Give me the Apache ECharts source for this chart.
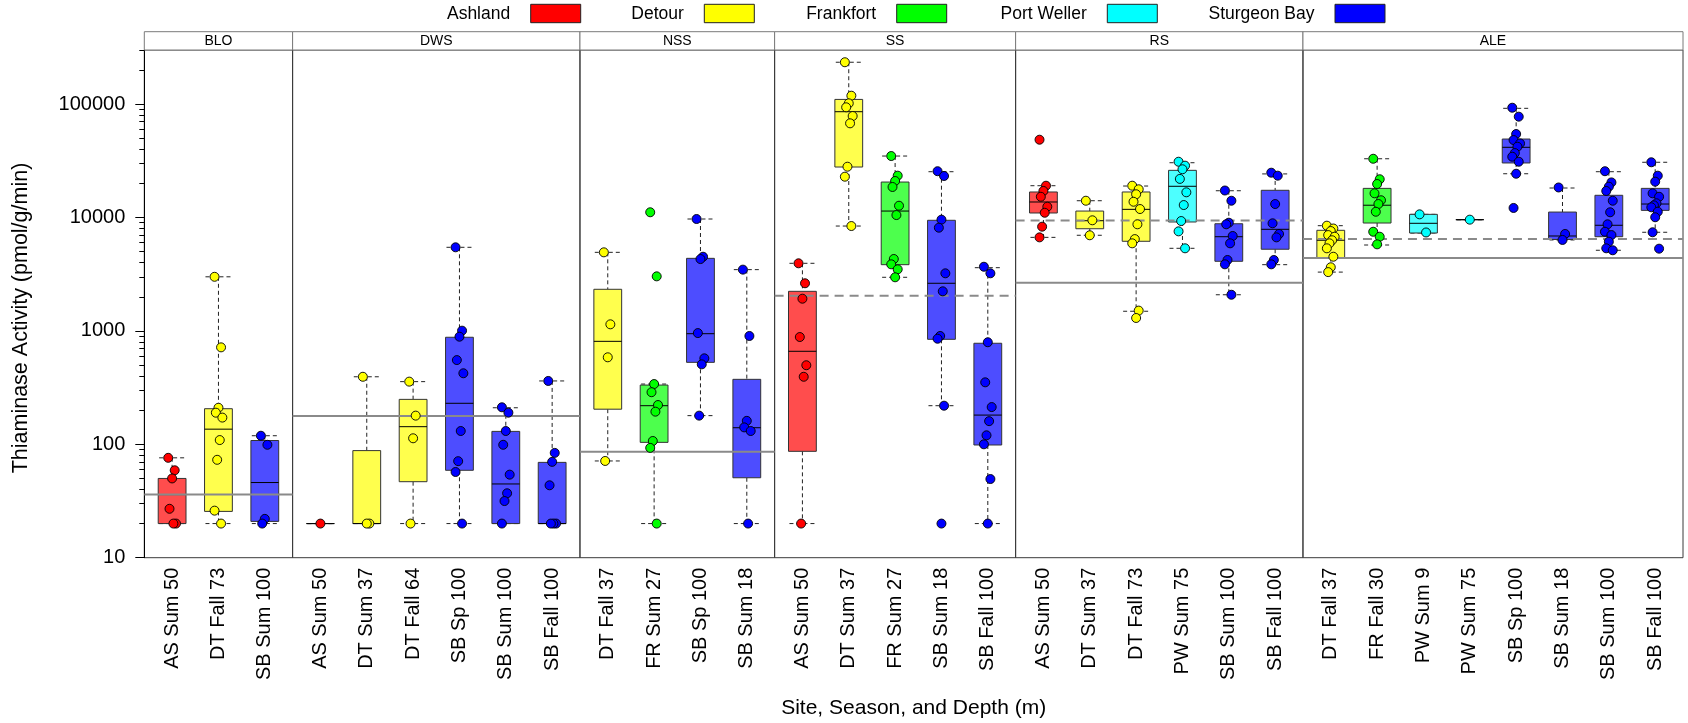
<!DOCTYPE html>
<html>
<head>
<meta charset="utf-8">
<script src="https://cdn.jsdelivr.net/npm/echarts@6/dist/echarts.min.js"></script>
<style>
html,body{margin:0;padding:0;background:#fff;}
#chart{width:1688px;height:723px;}
</style>
</head>
<body>
<div id="chart"></div>
<script>
// ---------------- DATA ----------------
const panelNames = ['BLO', 'DWS', 'NSS', 'SS', 'RS', 'ALE'];

const catsBLO = ['AS Sum 50', 'DT Fall 73', 'SB Sum 100'];
// [lower whisker, Q1, median, Q3, upper whisker]
const boxesBLO = [
  [20, 20, 36, 50, 76],
  [20, 25.6, 136, 206, 3000],
  [20, 20.9, 46, 108, 119]
];
const pointsBLO = [
  [76, 59, 50, 27, 20, 20],
  [3000, 716, 210, 190, 172, 109, 73, 26, 20],
  [119, 99, 22, 20]
];

const catsDWS = ['AS Sum 50', 'DT Sum 37', 'DT Fall 64', 'SB Sp 100', 'SB Sum 100', 'SB Fall 100'];
const boxesDWS = [
  [20, 20, 20, 20, 20],
  [20, 20, 20, 88, 394],
  [20, 46.8, 143, 249, 357],
  [20, 59, 230, 879, 5460],
  [20, 20, 44.7, 130, 210],
  [20, 20, 20, 69.3, 362]
];
const pointsDWS = [
  [20],
  [394, 20, 20],
  [357, 179, 113, 20],
  [5460, 1005, 889, 553, 423, 131, 71, 57, 20],
  [212, 190, 131, 99, 54, 37, 31.6, 20],
  [362, 84, 70, 43.5, 20, 20, 20]
];

const catsNSS = ['DT Fall 37', 'FR Sum 27', 'SB Sp 100', 'SB Sum 18'];
const boxesNSS = [
  [71.3, 204, 809, 2328, 4930],
  [20, 104, 219, 333, 340],
  [179, 528, 945, 4365, 9700],
  [20, 50.7, 140, 374, 3470]
];
const pointsNSS = [
  [4930, 1143, 585, 71.3],
  [11120, 3027, 340, 288, 222, 194, 107, 93, 20],
  [9700, 4510, 4300, 957, 573, 507, 179],
  [3470, 902, 161, 141, 131, 20]
];

const catsSS = ['AS Sum 50', 'DT Sum 37', 'FR Sum 27', 'SB Sum 18', 'SB Fall 100'];
const boxesSS = [
  [20, 86.7, 661, 2234, 3945],
  [8410, 27870, 85700, 110000, 234000],
  [2970, 3837, 11400, 20550, 34840],
  [219, 843, 2630, 9450, 25340],
  [20, 98.6, 181, 778, 3610]
];
const pointsSS = [
  [3945, 2630, 1923, 883, 498, 394, 20],
  [234000, 118600, 101600, 93700, 78500, 67700, 28050, 22900, 8410],
  [34840, 23380, 20990, 18580, 12700, 10510, 4307, 3865, 3492, 2970],
  [25600, 23230, 9570, 8130, 3220, 2234, 902, 853, 219, 20],
  [3680, 3220, 794, 352, 213, 160, 120, 100, 49.4, 20]
];

const catsRS = ['AS Sum 50', 'DT Sum 37', 'DT Fall 73', 'PW Sum 75', 'SB Sum 100', 'SB Fall 100'];
const boxesRS = [
  [6680, 10960, 13700, 16790, 19070],
  [6970, 7960, 9370, 11400, 14060],
  [1490, 6170, 11800, 16790, 18950],
  [5350, 9130, 18850, 26060, 30410],
  [2083, 4110, 6770, 8810, 17220],
  [3837, 5250, 7870, 17380, 24230]
];
const pointsRS = [
  [48530, 19070, 17140, 15240, 12450, 11010, 8300, 6680],
  [14060, 9450, 6970],
  [19070, 17740, 16030, 13770, 11880, 8710, 6450, 5920, 1510, 1300],
  [31040, 28640, 26630, 21890, 16680, 12880, 9310, 7550, 5350],
  [17300, 14060, 9000, 8710, 6870, 5920, 4220, 3865, 2083],
  [24840, 23380, 13150, 8890, 7160, 6680, 4220, 3865]
];

const catsALE = ['DT Fall 37', 'FR Fall 30', 'PW Sum 9', 'PW Sum 75', 'SB Sp 100', 'SB Sum 18', 'SB Sum 100', 'SB Fall 100'];
const boxesALE = [
  [3300, 4430, 6300, 7710, 8470],
  [5720, 8940, 12830, 18070, 32960],
  [7300, 7300, 8890, 10660, 10660],
  [9570, 9570, 9570, 9570, 9570],
  [24320, 30260, 41590, 49200, 91800],
  [6340, 6400, 6870, 11170, 18200],
  [5140, 6770, 8540, 15700, 25340],
  [7410, 11560, 13150, 18070, 30690]
];
const pointsALE = [
  [8470, 8000, 7600, 7000, 6770, 6300, 5920, 5350, 4510, 3640, 3300],
  [32960, 21750, 19740, 16340, 14200, 13150, 11240, 7490, 6770, 5800],
  [10660, 7380],
  [9570],
  [92900, 77500, 54450, 48200, 45000, 42100, 37000, 34350, 31040, 24320, 12140],
  [18400, 7160, 6340],
  [25600, 20400, 18700, 17140, 14060, 11120, 8710, 7490, 7000, 6120, 5350, 5140],
  [30690, 23380, 20700, 16340, 15240, 13350, 12800, 12300, 11240, 10050, 7410, 5310]
];

// panel reference lines (solid and dashed), null = none
const refSolid = [36, 178, 86, null, 2660, 4400];
const refDashed = [null, null, null, 2040, 9400, 6470];

const yMajorTicks = [10, 100, 1000, 10000, 100000];
const legendNames = ['Ashland', 'Detour', 'Frankfort', 'Port Weller', 'Sturgeon Bay'];
const legendCodes = ['AS', 'DT', 'FR', 'PW', 'SB'];
const yTitle = 'Thiaminase Activity (pmol/g/min)';
const xTitle = 'Site, Season, and Depth (m)';

// ---------------- STYLE / LAYOUT ----------------
const FONT = "'Liberation Sans', Arial, Helvetica, sans-serif";
const pointColor = {AS: '#ff0000', DT: '#ffff00', FR: '#00ff00', PW: '#00ffff', SB: '#0000ff'};
const boxFill = {AS: '#ff4d4d', DT: '#ffff4d', FR: '#4dff4d', PW: '#4dffff', SB: '#4d4dff'};
const panelCats = [catsBLO, catsDWS, catsNSS, catsSS, catsRS, catsALE];
const panelBoxes = [boxesBLO, boxesDWS, boxesNSS, boxesSS, boxesRS, boxesALE];
const panelPoints = [pointsBLO, pointsDWS, pointsNSS, pointsSS, pointsRS, pointsALE];

const PLOT_L = 144.3, PLOT_R = 1683, PLOT_T = 50, PLOT_B = 557.7, STRIP_T = 31.7;
const Y_MIN = 10, Y_MAX = 300000;
const totalUnits = panelCats.reduce((s, c) => s + c.length + 0.2, 0);
const unit = (PLOT_R - PLOT_L) / totalUnits;

const minorTicks = [];
for (let d = 10; d <= 100000; d *= 10) {
  for (let k = 2; k <= 9; k++) { if (k * d <= Y_MAX) minorTicks.push(k * d); }
}

const grids = [], xAxes = [], yAxes = [], series = [], graphics = [];
let cum = 0;
panelCats.forEach((cats, pi) => {
  const n = cats.length;
  const left = PLOT_L + cum * unit;
  const width = (n + 0.2) * unit;
  cum += n + 0.2;
  grids.push({
    left: left, top: PLOT_T, width: width, height: PLOT_B - PLOT_T,
    show: true, borderColor: '#3a3a3a', borderWidth: 1, backgroundColor: 'transparent',
    containLabel: false, outerBoundsMode: 'none'
  });
  xAxes.push({
    type: 'value', gridIndex: pi, min: -0.6, max: n - 0.4, position: 'bottom',
    axisLine: {show: false, onZero: false}, axisTick: {show: false}, splitLine: {show: false},
    axisLabel: {
      customValues: cats.map((c, i) => i),
      formatter: v => cats[Math.round(v)] || '',
      rotate: 90, fontSize: 20, color: '#000', fontFamily: FONT, margin: 10
    }
  });
  const yIdx = yAxes.length;
  if (pi === 0) {
    yAxes.push({
      type: 'log', logBase: 10, gridIndex: 0, min: Y_MIN, max: Y_MAX, position: 'left',
      axisLine: {show: true, onZero: false, lineStyle: {color: '#000', width: 1}},
      axisTick: {show: true, customValues: yMajorTicks, length: 9, lineStyle: {color: '#000'}},
      axisLabel: {customValues: yMajorTicks, formatter: v => String(Math.round(v)),
        fontSize: 20, color: '#000', fontFamily: FONT, margin: 19},
      splitLine: {show: false}
    });
    yAxes.push({
      type: 'log', logBase: 10, gridIndex: 0, min: Y_MIN, max: Y_MAX, position: 'left', offset: 0,
      axisLine: {show: false, onZero: false},
      axisTick: {show: true, customValues: minorTicks, length: 5, lineStyle: {color: '#000'}},
      axisLabel: {show: false}, splitLine: {show: false}
    });
  } else {
    yAxes.push({
      type: 'log', logBase: 10, gridIndex: pi, min: Y_MIN, max: Y_MAX, show: false,
      axisLine: {onZero: false}, splitLine: {show: false}
    });
  }

  // boxes
  const boxData = panelBoxes[pi].map((b, i) => {
    const code = cats[i].split(' ')[0];
    return [i, b[0], b[1], b[2], b[3], b[4], legendCodes.indexOf(code)];
  });
  series.push({
    type: 'custom', xAxisIndex: pi, yAxisIndex: yIdx, z: 2, silent: true,
    encode: {x: 0, y: [1, 2, 3, 4, 5]},
    data: boxData,
    renderItem: (params, api) => {
      const x = api.value(0);
      const lo = api.value(1), q1 = api.value(2), med = api.value(3), q3 = api.value(4), hi = api.value(5);
      const fill = boxFill[legendCodes[api.value(6)]];
      const pLo = api.coord([x, lo]), pQ1 = api.coord([x, q1]), pMed = api.coord([x, med]);
      const pQ3 = api.coord([x, q3]), pHi = api.coord([x, hi]);
      const bl = api.coord([x - 0.3, med])[0], br = api.coord([x + 0.3, med])[0];
      const cl = api.coord([x - 0.28, med])[0], cr = api.coord([x + 0.28, med])[0];
      const cx = pMed[0];
      const dash = () => ({stroke: '#222', lineWidth: 1, lineDash: [4, 3], fill: null});
      return {
        type: 'group',
        children: [
          {type: 'line', shape: {x1: cx, y1: pHi[1], x2: cx, y2: pQ3[1]}, style: dash()},
          {type: 'line', shape: {x1: cx, y1: pQ1[1], x2: cx, y2: pLo[1]}, style: dash()},
          {type: 'line', shape: {x1: cl, y1: pHi[1], x2: cr, y2: pHi[1]}, style: dash()},
          {type: 'line', shape: {x1: cl, y1: pLo[1], x2: cr, y2: pLo[1]}, style: dash()},
          {type: 'rect', shape: {x: bl, y: pQ3[1], width: br - bl, height: Math.max(pQ1[1] - pQ3[1], 0)},
            style: {fill: fill, stroke: '#333', lineWidth: 1}},
          {type: 'line', shape: {x1: bl, y1: pMed[1], x2: br, y2: pMed[1]}, style: {stroke: '#000', lineWidth: 1}}
        ]
      };
    }
  });

  // reference lines
  if (refSolid[pi] != null) {
    series.push({
      type: 'line', xAxisIndex: pi, yAxisIndex: yIdx, z: 4, silent: true, symbol: 'none',
      data: [[-0.6, refSolid[pi]], [n - 0.4, refSolid[pi]]],
      lineStyle: {color: '#8a8a8a', width: 2}, animation: false
    });
  }
  if (refDashed[pi] != null) {
    series.push({
      type: 'line', xAxisIndex: pi, yAxisIndex: yIdx, z: 4, silent: true, symbol: 'none',
      data: [[-0.6, refDashed[pi]], [n - 0.4, refDashed[pi]]],
      lineStyle: {color: '#8a8a8a', width: 2, type: [9, 6]}, animation: false
    });
  }

  // points with small deterministic jitter
  const pts = [];
  panelPoints[pi].forEach((arr, i) => {
    const code = cats[i].split(' ')[0];
    arr.forEach((v, k) => {
      const jit = arr.length > 1 ? ((((k * 5) % 7) - 3) * 0.028) : 0;
      pts.push({value: [i + jit, v], itemStyle: {color: pointColor[code]}});
    });
  });
  series.push({
    type: 'scatter', xAxisIndex: pi, yAxisIndex: yIdx, z: 6, silent: true,
    symbol: 'circle', symbolSize: 9,
    itemStyle: {borderColor: '#000', borderWidth: 0.9, opacity: 1},
    data: pts, animation: false
  });

  // strip
  graphics.push({
    type: 'rect', shape: {x: left, y: STRIP_T, width: width, height: PLOT_T - STRIP_T},
    style: {fill: '#fff', stroke: '#7a7a7a', lineWidth: 1}, z: 10
  });
  graphics.push({
    type: 'text', x: left + width / 2, y: (STRIP_T + PLOT_T) / 2 + 0.5, z: 11,
    style: {text: panelNames[pi], font: '14px ' + FONT, fill: '#000',
      align: 'center', verticalAlign: 'middle', textAlign: 'center', textVerticalAlign: 'middle'}
  });
});

// legend (text left of colour box)
const legendBoxX = [530.7, 704.3, 896.7, 1107.3, 1335];
legendNames.forEach((name, i) => {
  const bx = legendBoxX[i];
  graphics.push({
    type: 'rect', shape: {x: bx, y: 4.3, width: 50, height: 18.4},
    style: {fill: pointColor[legendCodes[i]], stroke: '#222', lineWidth: 1}
  });
  graphics.push({
    type: 'text', x: bx - 20.5, y: 14.2,
    style: {text: name, font: '17.5px ' + FONT, fill: '#000',
      align: 'right', verticalAlign: 'middle', textAlign: 'right', textVerticalAlign: 'middle'}
  });
});

// axis titles
graphics.push({
  type: 'text', x: (PLOT_L + PLOT_R) / 2, y: 708,
  style: {text: xTitle, font: '21px ' + FONT, fill: '#000',
    align: 'center', verticalAlign: 'middle', textAlign: 'center', textVerticalAlign: 'middle'}
});
graphics.push({
  type: 'text', x: 21.5, y: 318, rotation: Math.PI / 2,
  style: {text: yTitle, font: '21.5px ' + FONT, fill: '#000',
    align: 'center', verticalAlign: 'middle', textAlign: 'center', textVerticalAlign: 'middle'}
});

const chart = echarts.init(document.getElementById('chart'), null, {renderer: 'canvas'});
chart.setOption({
  backgroundColor: '#fff',
  animation: false,
  grid: grids,
  xAxis: xAxes,
  yAxis: yAxes,
  series: series,
  graphic: {elements: graphics}
});
</script>
</body>
</html>
